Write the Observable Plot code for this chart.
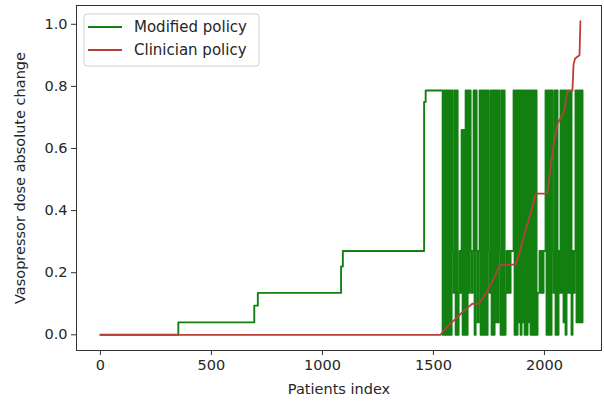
<!DOCTYPE html>
<html>
<head>
<meta charset="utf-8">
<script src="https://cdn.jsdelivr.net/npm/d3@7"></script>
<script src="https://cdn.jsdelivr.net/npm/@observablehq/plot@0.6"></script>
<style>
  html, body { margin: 0; padding: 0; background: #fff; }
  #chart { width: 604px; height: 402px; }
</style>
</head>
<body>
<div id="chart"></div>
<script>
// ---- data ----
const seriesNames = ["Modified policy", "Clinician policy"];
const seriesColors = ["#118011", "#b8403a"];

// Modified policy: stepwise part (patient index, dose change)
const modifiedIdx = [0, 351, 693, 709, 1084, 1092, 1458, 1465];
const modifiedVal = [0, 0.04, 0.094, 0.135, 0.22, 0.27, 0.75, 0.787];

// Modified policy: oscillating part
const denseStart = 1537;
const denseStep = 4.5;
const denseLevels = [0, 0.04, 0.135, 0.27, 0.787, 0.66]; // code -> value
const denseCodes = (
  "40404040404" + "32" + "40402" + "32" + "505" + "040424" + "323" + "404" + "313" + "404040" +
  "40432404041414304040" + "23232333" + "4040414041404041404040" + "40" +
  "22323233" + "4040404" + "32" + "4040" + "32" + "424140424240" + "323" + "4141414" + "1"
);

// Clinician policy
const clinicianIdx = [0, 1532, 1560, 1590, 1622, 1650, 1675, 1703, 1720, 1742, 1771, 1790, 1802, 1870,
  1888, 1906, 1925, 1945, 1960, 2013, 2028, 2044, 2059, 2075, 2089, 2097, 2104, 2126, 2131, 2138, 2158, 2162];
const clinicianVal = [0, 0, 0.025, 0.045, 0.067, 0.085, 0.10, 0.10, 0.115, 0.14, 0.18, 0.21, 0.226, 0.226,
  0.265, 0.314, 0.36, 0.41, 0.455, 0.455, 0.54, 0.625, 0.68, 0.70, 0.72, 0.76, 0.785, 0.785, 0.87, 0.89, 0.90, 1.01];

const xTicks = [0, 500, 1000, 1500, 2000];
const yTicks = [0, 0.2, 0.4, 0.6, 0.8, 1.0];

// ---- build tables ----
const modified = modifiedIdx.map((x, i) => ({x, y: modifiedVal[i]}));
for (let i = 0; i < denseCodes.length; i++) {
  modified.push({x: denseStart + i * denseStep, y: denseLevels[+denseCodes[i]]});
}
const clinician = clinicianIdx.map((x, i) => ({x, y: clinicianVal[i]}));

const font = "DejaVu Sans, sans-serif";

const plot = Plot.plot({
  width: 604,
  height: 402,
  marginLeft: 76,
  marginRight: 3,
  marginTop: 5,
  marginBottom: 52,
  style: {fontFamily: font, fontSize: "15px", color: "#262626", background: "#fff"},
  x: {domain: [-107.7, 2257], label: null},
  y: {domain: [-0.0505, 1.0605], label: null},
  marks: [
    Plot.line(modified, {x: "x", y: "y", curve: "step-after", stroke: seriesColors[0], strokeWidth: 1.9}),
    Plot.line(clinician, {x: "x", y: "y", stroke: seriesColors[1], strokeWidth: 1.8}),
    Plot.frame({stroke: "#333", strokeWidth: 1}),
    Plot.axisX({ticks: xTicks, tickSize: 5, tickPadding: 4, fontSize: 14.5, stroke: "#333",
      tickFormat: d3.format("d"),
      label: "Patients index", labelAnchor: "center", labelArrow: "none", labelOffset: 43}),
    Plot.axisY({ticks: yTicks, tickSize: 5, tickPadding: 4, fontSize: 14.5, stroke: "#333",
      tickFormat: d3.format(".1f"),
      label: "Vasopressor dose absolute change", labelAnchor: "center", labelArrow: "none", labelOffset: 62})
  ]
});
plot.querySelectorAll("text").forEach(t => {});
document.getElementById("chart").appendChild(plot);

// ---- legend (inside the plot, top-left) ----
const svg = d3.select(plot);
const lg = svg.append("g").attr("font-family", font).attr("font-size", 15).attr("text-anchor", "start");
lg.append("rect").attr("x", 84).attr("y", 14).attr("width", 175).attr("height", 52)
  .attr("rx", 3).attr("fill", "#fff").attr("fill-opacity", 0.85).attr("stroke", "#d0d0d0");
seriesNames.forEach((name, i) => {
  const cy = 27 + i * 23;
  lg.append("line").attr("x1", 88).attr("x2", 122).attr("y1", cy).attr("y2", cy)
    .attr("stroke", seriesColors[i]).attr("stroke-width", 2);
  lg.append("text").attr("x", 134).attr("y", cy).attr("dy", "0.35em").attr("text-anchor", "start")
    .attr("fill", "#262626").text(name);
});
</script>
</body>
</html>
